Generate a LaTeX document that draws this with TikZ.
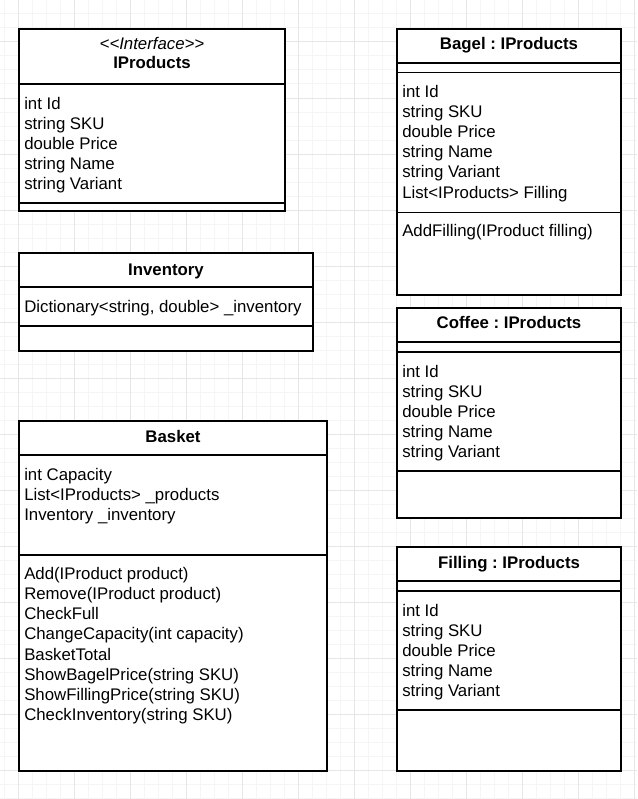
\documentclass[tikz,border=0pt]{standalone}
\usepackage{fontspec}
\setmainfont{Liberation Sans}
\frenchspacing
\begin{document}
\begin{tikzpicture}[x=0.75pt,y=-0.75pt,
  gminor/.style={draw={rgb,255:red,245;green,245;blue,245},line width=0.75pt},
  gmajor/.style={draw={rgb,255:red,230;green,230;blue,230},line width=0.75pt},
  box/.style={draw=black,line width=1.05pt,fill=white},
  sepline/.style={draw=black,line width=1.05pt},
  attr/.style={anchor=base west,inner sep=0pt,font=\fontsize{12.6}{15}\selectfont},
  ttl/.style={anchor=base,inner sep=0pt,font=\fontsize{12.6}{15}\selectfont\bfseries},
  stereo/.style={anchor=base,inner sep=0pt,font=\fontsize{12.6}{15}\selectfont\itshape}]
\useasboundingbox (0,0) rectangle (637,799);
\fill[white] (0,0) rectangle (637,799);
% grid
\foreach \i in {0,...,45} \draw[gminor] ({4+14*\i},0) -- ({4+14*\i},799);
\foreach \j in {0,...,57} \draw[gminor] (0,{14*\j}) -- (637,{14*\j});
\foreach \i in {0,...,11} \draw[gmajor] ({18+56*\i},0) -- ({18+56*\i},799);
\foreach \j in {-1,...,14} \draw[gmajor] (0,{42+56*\j}) -- (637,{42+56*\j});

% IProducts
\draw[box] (19,29) rectangle (285,211);
\draw[sepline] (19,84) -- (285,84);
\draw[sepline] (19,203) -- (285,203);
\node[stereo] (ipst) at (152,50) {<{}<Interface>{}>};
\node[ttl] (ipt) at (152,69) {IProducts};
\foreach \t [count=\k from 0] in {int Id,string SKU,double Price,string Name,string Variant}
  \node[attr] (ipa\k) at (24,{109+20.16*\k}) {\t};

% Inventory
\draw[box] (19,253) rectangle (313,351);
\draw[sepline] (19,287) -- (313,287);
\draw[sepline] (19,326) -- (313,326);
\node[ttl] (invt) at (166,275) {Inventory};
\node[attr] (inva) at (24,312.7) {Dictionary<string, double> \_inventory};

% Basket
\draw[box] (19,421) rectangle (327,771);
\draw[sepline] (19,455) -- (327,455);
\draw[sepline] (19,555) -- (327,555);
\node[ttl] (bskt) at (173,442.3) {Basket};
\foreach \t [count=\k from 0] in {int Capacity,List<IProducts> \_products,Inventory \_inventory}
  \node[attr] (bska\k) at (24,{480.5+20.16*\k}) {\t};
\foreach \t [count=\k from 0] in {Add(IProduct product),Remove(IProduct product),CheckFull,ChangeCapacity(int capacity),BasketTotal,ShowBagelPrice(string SKU),ShowFillingPrice(string SKU),CheckInventory(string SKU)}
  \node[attr] (bskm\k) at (24,{579.5+20.16*\k}) {\t};

% Bagel
\draw[box] (397,29) rectangle (621,295);
\draw[sepline] (397,63) -- (621,63);
\draw[sepline] (397,72.7) -- (621,72.7);
\draw[sepline] (397,212.7) -- (621,212.7);
\node[ttl] (bagt) at (509,50) {Bagel : IProducts};
\foreach \t [count=\k from 0] in {int Id,string SKU,double Price,string Name,string Variant,List<IProducts> Filling}
  \node[attr] (baga\k) at (402,{97.3+20.16*\k}) {\t};
\node[attr] (bagm0) at (402,236.8) {AddFilling(IProduct filling)};

% Coffee
\draw[box] (397,308) rectangle (621,518);
\draw[sepline] (397,342) -- (621,342);
\draw[sepline] (397,352) -- (621,352);
\draw[sepline] (397,471) -- (621,471);
\node[ttl] (cofft) at (509,328.5) {Coffee : IProducts};
\foreach \t [count=\k from 0] in {int Id,string SKU,double Price,string Name,string Variant}
  \node[attr] (coffa\k) at (402,{377+20.16*\k}) {\t};

% Filling
\draw[box] (397,547) rectangle (621,771);
\draw[sepline] (397,581) -- (621,581);
\draw[sepline] (397,591) -- (621,591);
\draw[sepline] (397,710) -- (621,710);
\node[ttl] (fillt) at (509,568.3) {Filling : IProducts};
\foreach \t [count=\k from 0] in {int Id,string SKU,double Price,string Name,string Variant}
  \node[attr] (filla\k) at (402,{616+20.16*\k}) {\t};
\end{tikzpicture}
\end{document}
